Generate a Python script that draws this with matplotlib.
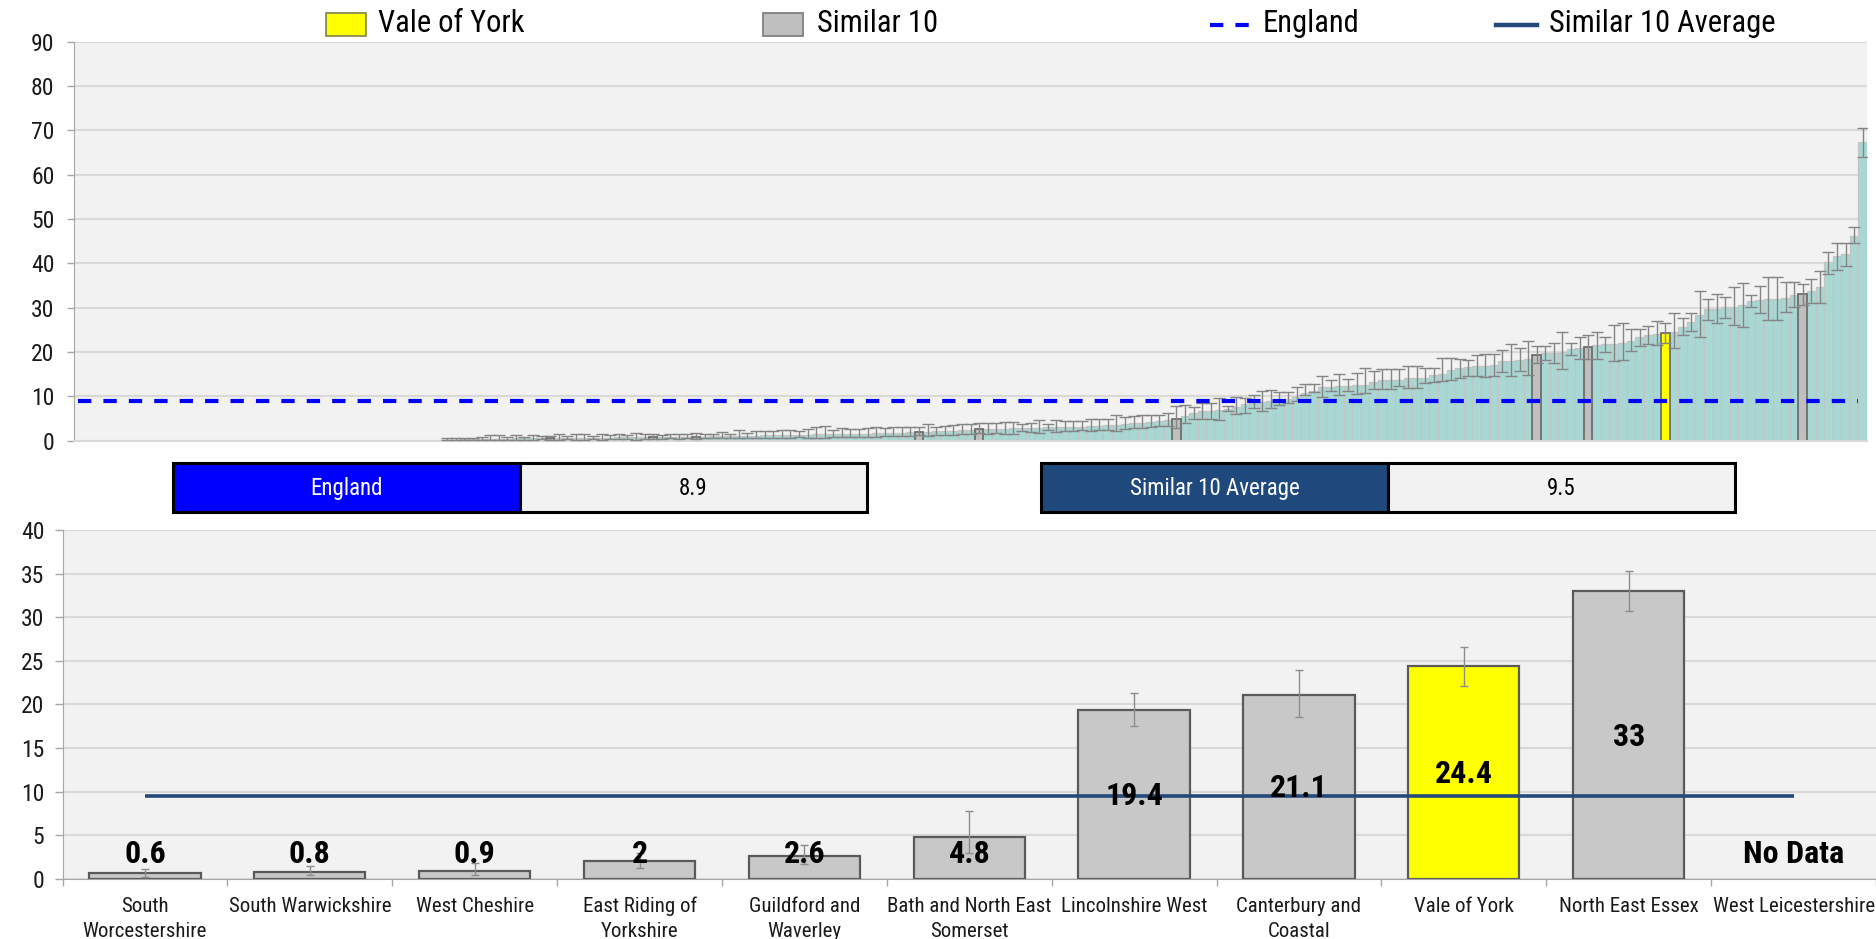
import matplotlib
matplotlib.use("Agg")
import matplotlib.pyplot as plt
from matplotlib import font_manager as fm
from matplotlib.patches import Rectangle
from matplotlib.lines import Line2D
import numpy as np

# ---------------- data ----------------
top_values = [
    0, 0, 0, 0, 0, 0, 0, 0, 0, 0, 0, 0, 0, 0, 0, 0, 0, 0, 0, 0, 0, 0, 0, 0, 0, 0, 0, 0, 0, 0,
    0, 0, 0, 0, 0, 0, 0, 0, 0, 0, 0, 0, 0,
    0.2, 0.2, 0.3, 0.3, 0.3, 0.4, 0.4, 0.4, 0.5, 0.5, 0.5, 0.6,
    0.6,
    0.6, 0.6, 0.7, 0.7, 0.7, 0.7, 0.7, 0.8, 0.8, 0.8, 0.8,
    0.8,
    0.8, 0.9, 0.9, 0.9,
    0.9,
    0.9, 1.0, 1.0, 1.0, 1.1, 1.1, 1.1, 1.2, 1.2, 1.2, 1.3, 1.3, 1.3, 1.4, 1.4, 1.4, 1.5, 1.5,
    1.6, 1.6, 1.7, 1.7, 1.8, 1.8, 1.9,
    2.0,
    2.0, 2.1, 2.2, 2.3, 2.4, 2.5,
    2.6,
    2.6, 2.7, 2.7, 2.8, 2.8, 2.9, 2.9, 3.0, 3.0, 3.1, 3.2, 3.2, 3.3, 3.4, 3.5, 3.6, 3.7, 3.9,
    4.0, 4.2, 4.4, 4.6,
    4.8,
    5.5, 6.3, 6.6, 6.6, 6.9, 7.1, 7.7, 8.2, 8.6, 8.7, 8.9, 9.2, 9.3, 9.8, 10.7, 11.3, 12.0, 12.0,
    12.3, 12.4, 12.6, 12.6, 13.3, 13.7, 13.7, 13.7, 14.1, 14.1, 14.1, 14.8, 15.0,
    15.9, 16.3, 16.7, 16.8, 16.8, 17.0, 18.0, 18.0, 18.3, 18.5,
    19.4,
    19.7, 19.8, 20.1, 20.6, 20.8, 21.1, 21.5, 21.7, 21.8, 22.1, 22.6, 23.3, 23.8, 24.1, 24.4,
    24.6, 25.7, 26.8, 28.3, 29.6, 29.8, 30.1, 30.2, 30.5, 31.6, 31.8, 32.0, 32.0, 32.2, 32.9,
    33.0, 33.8, 34.6, 40.2, 41.7, 42.1, 46.2, 67.3,
]

top_upper = [
    0, 0, 0, 0, 0, 0, 0, 0, 0, 0, 0, 0, 0, 0, 0, 0, 0, 0, 0, 0, 0, 0, 0, 0, 0, 0, 0, 0, 0, 0,
    0, 0, 0, 0, 0, 0, 0, 0, 0, 0, 0, 0, 0,
    0.5, 0.6, 0.7, 0.7, 0.8, 1.3, 1.2, 0.9, 1.3, 0.9, 1.3, 1.0,
    1.1,
    1.5, 1.0, 1.6, 1.6, 1.0, 1.6, 1.3, 1.6, 1.3, 1.8, 1.4,
    1.45,
    1.3, 1.4, 1.5, 1.4,
    1.8,
    1.5, 1.5, 1.9, 1.4, 2.4, 1.7, 2.3, 2.3, 2.3, 2.4, 2.4, 2.1, 2.6, 3.2, 3.3, 2.5, 2.8, 2.6,
    2.6, 2.9, 3.0, 2.8, 3.1, 3.2, 3.2,
    3.0,
    3.7, 3.1, 3.4, 3.6, 3.8, 3.7,
    3.9,
    3.9, 4.1, 4.3, 4.3, 3.8, 4.1, 4.7, 3.8, 4.7, 4.4, 4.5, 4.5, 4.9, 5.0, 5.0, 5.9, 5.3, 5.5,
    5.7, 5.8, 5.8, 6.3,
    7.8,
    8.0, 7.5, 8.4, 8.4, 9.6, 7.9, 9.8, 9.6, 10.4, 11.3, 11.4, 10.9, 10.9, 12.0, 12.9, 12.9, 14.7,
    13.7, 15.0, 13.9, 15.2, 16.4, 15.8, 16.2, 16.2, 16.2, 16.9, 16.9, 16.5, 16.5, 18.6,
    18.7, 18.5, 18.3, 19.3, 19.5, 19.5, 20.5, 21.9, 21.0, 22.6,
    21.3,
    21.4, 22.0, 24.5, 22.0, 23.5, 23.9, 24.6, 23.3, 26.2, 26.5, 25.1, 25.3, 25.9, 26.9, 26.6,
    28.9, 27.7, 28.9, 33.7, 32.0, 33.2, 32.5, 34.7, 35.5, 32.9, 35.0, 37.0, 37.0, 35.7, 35.9,
    35.3, 36.4, 38.3, 42.6, 44.5, 44.5, 48.1, 70.5,
]

top_lower = [
    0, 0, 0, 0, 0, 0, 0, 0, 0, 0, 0, 0, 0, 0, 0, 0, 0, 0, 0, 0, 0, 0, 0, 0, 0, 0, 0, 0, 0, 0,
    0, 0, 0, 0, 0, 0, 0, 0, 0, 0, 0, 0, 0,
    0.1, 0.1, 0.1, 0.1, 0.1, 0.1, 0.1, 0.2, 0.1, 0.2, 0.1, 0.3,
    0.2,
    0.2, 0.3, 0.2, 0.2, 0.4, 0.2, 0.3, 0.3, 0.4, 0.2, 0.4,
    0.4,
    0.4, 0.5, 0.4, 0.5,
    0.4,
    0.5, 0.6, 0.5, 0.7, 0.5, 0.7, 0.6, 0.7, 0.7, 0.6, 0.7, 0.8, 0.6, 0.5, 0.5, 0.8, 0.8, 0.9,
    0.9, 0.9, 0.9, 1.0, 1.0, 1.0, 1.1,
    1.2,
    1.0, 1.3, 1.2, 1.3, 1.4, 1.5,
    1.7,
    1.6, 1.8, 1.6, 1.6, 2.1, 2.0, 1.8, 2.4, 2.0, 2.2, 2.3, 2.4, 2.3, 2.4, 2.5, 2.2, 2.6, 2.8,
    2.9, 3.1, 3.3, 3.4,
    2.9,
    3.9, 4.9, 4.9, 4.9, 4.7, 6.8, 6.0, 6.2, 7.4, 6.8, 7.3, 8.1, 8.4, 8.9, 10.2, 10.9, 9.8,
    11.1, 10.2, 11.3, 10.5, 10.7, 11.7, 11.7, 11.7, 12.4, 11.9, 11.9, 13.0, 13.2, 13.5,
    13.7, 14.2, 14.7, 14.6, 14.4, 14.6, 15.5, 14.7, 15.7, 14.9,
    17.5,
    18.1, 17.6, 16.1, 19.3, 18.5, 18.5, 18.5, 20.0, 18.0, 18.2, 20.2, 21.4, 21.9, 21.6, 22.1,
    21.0, 23.8, 24.7, 23.5, 27.2, 26.6, 27.7, 26.0, 25.7, 30.2, 28.7, 27.2, 27.2, 29.0, 30.1,
    30.7, 31.1, 31.1, 37.7, 38.5, 39.5, 44.7, 64.1,
]

# rank position (in the sorted top chart) of each "similar 10" area + Vale of York
top_highlight_rank = [55, 67, 72, 98, 105, 128, 170, 176, 185, 201]

categories = ["South\nWorcestershire", "South Warwickshire", "West Cheshire",
              "East Riding of\nYorkshire", "Guildford and\nWaverley",
              "Bath and North East\nSomerset", "Lincolnshire West",
              "Canterbury and\nCoastal", "Vale of York", "North East Essex",
              "West Leicestershire"]
cat_values = [0.6, 0.8, 0.9, 2, 2.6, 4.8, 19.4, 21.1, 24.4, 33, None]
cat_lower = [0.23, 0.42, 0.4, 1.2, 1.7, 2.9, 17.5, 18.5, 22.1, 30.7, None]
cat_upper = [1.07, 1.45, 1.8, 3.0, 3.9, 7.8, 21.3, 23.9, 26.6, 35.3, None]
cat_labels = ["0.6", "0.8", "0.9", "2", "2.6", "4.8", "19.4", "21.1", "24.4", "33", "No Data"]
highlight_name = "Vale of York"

england_value = 8.9
similar_avg_value = 9.5

legend_labels = ["Vale of York", "Similar 10", "England", "Similar 10 Average"]

# ---------------- fonts ----------------
fl = fm.fontManager.ttflist
names = {f.name for f in fl}
FONT, STRETCH, SCALE = "Lato", "normal", 0.86
found = False
for nm in ["Roboto Condensed", "Liberation Sans Narrow", "Open Sans Condensed", "Noto Sans Condensed"]:
    if nm in names:
        FONT, STRETCH, SCALE = nm, "normal", 1.0
        found = True
        break
if not found:
    for fam in ["Roboto", "DejaVu Sans", "Noto Sans", "Open Sans"]:
        if any(f.name == fam and str(f.stretch) in ("condensed", "semi-condensed") for f in fl):
            FONT, STRETCH, SCALE = fam, "condensed", 1.0 if fam != "DejaVu Sans" else 0.9
            found = True
            break
if not found and "Lato" not in names:
    FONT, STRETCH, SCALE = "DejaVu Sans", "normal", 0.8

plt.rcParams["font.family"] = [FONT, "DejaVu Sans"]
plt.rcParams["font.stretch"] = STRETCH


def fs(v):
    return v * SCALE


# ---------------- figure ----------------
W, H = 1876, 939
fig = plt.figure(figsize=(W / 100, H / 100), dpi=100)
fig.patch.set_facecolor("white")


def fx(px):
    return px / W


def fy(py):
    return 1 - py / H


BG = "#F2F2F2"
GRID = "#D9D9D9"
TEAL = "#A7D8D3"
GRAYBAR = "#BFBFBF"
YELLOW = "#FFFF00"
ENG_BLUE = "#0000FF"
AVG_BLUE = "#244A7B"

# ---------------- top chart ----------------
ax1 = fig.add_axes([fx(74), fy(440.7), fx(1867) - fx(74), fy(41.7) - fy(440.7)])
ax1.set_facecolor(BG)
n = len(top_values)
xs = np.arange(n)
vals = np.array(top_values, dtype=float)
up = np.array(top_upper, dtype=float)
lo = np.array(top_lower, dtype=float)
nz = vals > 0

ax1.bar(xs[nz], vals[nz], width=1.0, color=TEAL, edgecolor="#C4C4C4", linewidth=0.9, zorder=2)

hl_vals = [vals[r] for r in top_highlight_rank]
hl_cols = [YELLOW if categories[i] == highlight_name else GRAYBAR for i in range(len(top_highlight_rank))]
ax1.bar(top_highlight_rank, hl_vals, width=1.0, color=hl_cols, edgecolor="#6E6E6E",
        linewidth=1.3, zorder=2.5)

ax1.errorbar(xs[nz], vals[nz], yerr=[vals[nz] - lo[nz], up[nz] - vals[nz]], fmt="none",
             ecolor="#858585", elinewidth=1.0, capsize=4.5, capthick=1.0, zorder=3)

ax1.axhline(england_value, xmin=0.002, xmax=0.995, color=ENG_BLUE, lw=3.0,
            linestyle=(0, (3.2, 2.9)), zorder=5)

ax1.set_xlim(-0.5, n - 0.5)
ax1.set_ylim(0, 90)
ax1.set_yticks(range(0, 91, 10))
ax1.set_xticks([])
ax1.grid(axis="y", color=GRID, lw=1.5)
ax1.set_axisbelow(True)
for s in ["top", "right"]:
    ax1.spines[s].set_visible(False)
ax1.spines["left"].set_color("#A6A6A6")
ax1.spines["bottom"].set_color(GRID)
ax1.spines["bottom"].set_linewidth(1.5)
ax1.tick_params(axis="y", length=5, width=1, color="#A6A6A6", pad=9,
                labelsize=fs(17), labelcolor="#1A1A1A")

# ---------------- info boxes ----------------
def box(x0, x1, y0, y1, color):
    fig.patches.append(Rectangle((fx(x0), fy(y1)), fx(x1) - fx(x0), fy(y0) - fy(y1),
                                 transform=fig.transFigure, facecolor=color,
                                 edgecolor="black", linewidth=2.2, zorder=1))


box(173, 520, 463, 512, ENG_BLUE)
box(520, 867, 463, 512, BG)
box(1041, 1388, 463, 512, "#1F497D")
box(1388, 1735, 463, 512, BG)
fig.text(fx(346.5), fy(488), "England", color="white", ha="center", va="center", fontsize=fs(16.5))
fig.text(fx(693.5), fy(488), f"{england_value}", color="black", ha="center", va="center", fontsize=fs(16.5))
fig.text(fx(1214.5), fy(488), "Similar 10 Average", color="white", ha="center", va="center", fontsize=fs(16.5))
fig.text(fx(1561.5), fy(488), f"{similar_avg_value}", color="black", ha="center", va="center", fontsize=fs(16.5))

# ---------------- legend ----------------
fig.patches.append(Rectangle((fx(326), fy(36)), fx(366) - fx(326), fy(13) - fy(36),
                             transform=fig.transFigure, facecolor=YELLOW, edgecolor="#8A8A50", lw=1.3))
fig.patches.append(Rectangle((fx(763), fy(36)), fx(803) - fx(763), fy(13) - fy(36),
                             transform=fig.transFigure, facecolor=GRAYBAR, edgecolor="#808080", lw=1.3))
fig.lines.append(Line2D([fx(1210), fx(1254)], [fy(25), fy(25)], transform=fig.transFigure,
                        color=ENG_BLUE, lw=3.0, linestyle=(0, (3.2, 2.9))))
fig.lines.append(Line2D([fx(1496), fx(1537)], [fy(25), fy(25)], transform=fig.transFigure,
                        color=AVG_BLUE, lw=3.2))
for xpos, txt in zip([378, 817, 1263, 1549], legend_labels):
    fig.text(fx(xpos), fy(24), txt, ha="left", va="center", fontsize=fs(22), color="black")

# ---------------- bottom chart ----------------
ax2 = fig.add_axes([fx(62.5), fy(878.7), fx(1876) - fx(62.5), fy(530) - fy(878.7)])
ax2.set_facecolor(BG)
nc = len(categories)
cx = np.arange(nc)
has = [v is not None for v in cat_values]
bx = [i for i in range(nc) if has[i]]
bv = [cat_values[i] for i in bx]
bcols = [YELLOW if categories[i] == highlight_name else "#C8C8C8" for i in bx]
ax2.bar(bx, bv, width=0.675, color=bcols, edgecolor="#5A5A5A", linewidth=1.6, zorder=2)
ax2.errorbar(bx, bv,
             yerr=[[cat_values[i] - cat_lower[i] for i in bx], [cat_upper[i] - cat_values[i] for i in bx]],
             fmt="none", ecolor="#8C8C8C", elinewidth=1.0, capsize=3, capthick=1.0, zorder=3)
ax2.plot([cx[0], cx[-1]], [similar_avg_value, similar_avg_value], color=AVG_BLUE, lw=2.6,
         solid_capstyle="butt", zorder=4)
for i in range(nc):
    v = cat_values[i]
    ypos = 2.8 if v is None else max(v / 2 - 0.2, 2.8)
    ax2.text(cx[i], ypos, cat_labels[i], ha="center", va="center", fontsize=fs(23),
             fontweight="bold", color="black", zorder=6)

ax2.set_xlim(-0.5, nc - 0.5)
ax2.set_ylim(0, 40)
ax2.set_yticks(range(0, 41, 5))
ax2.set_xticks(cx)
ax2.set_xticklabels(categories, fontsize=fs(15), linespacing=1.4, color="#1A1A1A")
ax2.set_xticks(np.arange(-0.5, nc, 1.0), minor=True)
ax2.tick_params(axis="x", which="major", length=0, pad=13)
ax2.tick_params(axis="x", which="minor", length=5, width=1, color="#A6A6A6")
ax2.tick_params(axis="y", length=6, width=1, color="#A6A6A6", pad=7,
                labelsize=fs(17), labelcolor="#1A1A1A")
ax2.grid(axis="y", color=GRID, lw=1.5)
ax2.set_axisbelow(True)
for s in ["top", "right"]:
    ax2.spines[s].set_visible(False)
ax2.spines["left"].set_color("#A6A6A6")
ax2.spines["bottom"].set_color("#A6A6A6")

fig.savefig("out.png", dpi=100, facecolor="white")
